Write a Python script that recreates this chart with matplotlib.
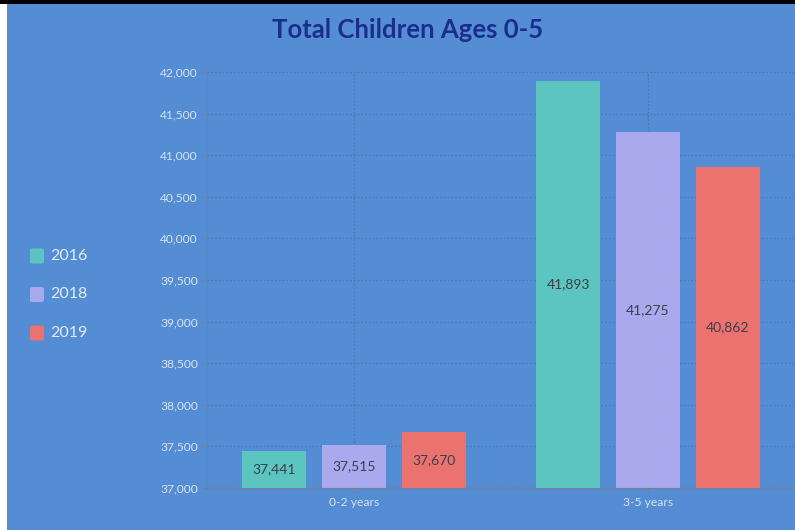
import numpy as np
import matplotlib.pyplot as plt
from matplotlib.patches import Rectangle, FancyBboxPatch

categories = ['0-2 years', '3-5 years']
years = ['2016', '2018', '2019']
v2016 = [37441, 41893]
v2018 = [37515, 41275]
v2019 = [37670, 40862]
colors = ['#5cc5c0', '#a9a9ee', '#ec7270']

BG = '#548dd4'
plt.rcParams['font.family'] = ['Lato', 'DejaVu Sans']

fig = plt.figure(figsize=(7.95, 5.30), dpi=100)
fig.patch.set_facecolor('white')
fig.patches.append(Rectangle((7/795, 0), 1, 1, transform=fig.transFigure,
                             facecolor=BG, edgecolor='none', zorder=-2))
fig.patches.append(Rectangle((0, 1-4/530), 1, 4/530, transform=fig.transFigure,
                             facecolor='black', edgecolor='none', zorder=-1))

ax = fig.add_axes([207/795, 1-488/530, 1-207/795, (488-72)/530])
ax.set_facecolor(BG)

x = np.arange(len(categories))
w = 64/294
off = 80/294
ymin, ymax = 37000, 42000
for i, (vals, c) in enumerate(zip([v2016, v2018, v2019], colors)):
    xs = x + (i-1)*off
    ax.bar(xs, np.array(vals)-ymin, bottom=ymin, width=w, color=c, zorder=3)
    for xx, v in zip(xs, vals):
        ax.text(xx, (v+ymin)/2, f'{v:,}', ha='center', va='center',
                fontsize=10, color='#3b3f4c', zorder=4)

ax.set_xlim(-0.5, 1.5)
ax.set_ylim(ymin, ymax)
ax.set_yticks(np.arange(37000, 42001, 500))
ax.yaxis.set_major_formatter(plt.FuncFormatter(lambda v, p: f'{int(v):,}'))
ax.set_xticks(x)
ax.set_xticklabels(categories)
ax.tick_params(axis='both', colors='#7a7f8a', labelcolor='#d6e2f5', labelsize=8.7, length=3)
ax.grid(True, color='#4a78b8', ls=(0, (1.5, 1.5)), lw=0.9, zorder=0)
for s in ['top', 'right']:
    ax.spines[s].set_visible(False)
for s in ['left', 'bottom']:
    ax.spines[s].set_color('#7a7f8a')
    ax.spines[s].set_zorder(5)

fig.text(408/795, 1-30/530, 'Total Children Ages 0-5', ha='center', va='center',
         fontsize=18.5, fontweight='bold', color='#1b2e8c')

# legend
for i, (yr, c) in enumerate(zip(years, colors)):
    yc = 1 - (256 + i*38.5)/530
    fig.patches.append(FancyBboxPatch((30/795, yc - 7.5/530), 14/795, 15/530,
                                      boxstyle='round,pad=0,rounding_size=0.003',
                                      transform=fig.transFigure, facecolor=c,
                                      edgecolor='none'))
    fig.text(50/795, yc, yr, ha='left', va='center', fontsize=11.5, color='#e4ecf8')

fig.savefig('out.png', dpi=100)
